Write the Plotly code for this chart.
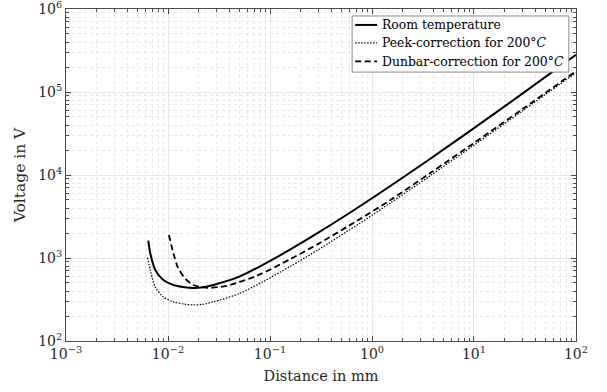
import plotly.graph_objects as go

# Room temperature (solid)
d_room = [0.0064, 0.0067, 0.0075, 0.009, 0.0113, 0.0145, 0.0176, 0.022, 0.0278, 0.05,
          0.086, 0.157, 0.3, 0.76, 1.5, 3.7, 10, 30, 100]
v_room = [1615, 1140, 716, 543, 473, 445, 435, 443, 473, 596,
          833, 1260, 2030, 4200, 7320, 15600, 36700, 96200, 280000]

# Peek-correction for 200 C (dotted)
d_peek = [0.0063, 0.0067, 0.0075, 0.009, 0.0113, 0.0145, 0.0176, 0.022, 0.0278, 0.05,
          0.086, 0.157, 0.3, 0.76, 1.5, 3.7, 10, 30, 100]
v_peek = [1009, 713, 448, 339, 296, 278, 272, 277, 296, 373,
          521, 788, 1269, 2625, 4575, 9750, 22900, 59500, 171000]

# Dunbar-correction for 200 C (dashed)
d_dun = [0.0102, 0.0113, 0.0126, 0.0147, 0.0177, 0.0239, 0.0324, 0.0406, 0.0741,
         0.157, 0.3, 0.76, 1.5, 3.7, 10, 30, 100]
v_dun = [1892, 1140, 751, 569, 473, 438, 448, 473, 610,
         964, 1490, 2940, 4950, 10500, 24300, 62500, 178000]

legend_names = ["Room temperature",
                "Peek-correction for 200°<i>C</i>",
                "Dunbar-correction for 200°<i>C</i>"]

x_tickvals = [1e-3, 1e-2, 1e-1, 1e0, 1e1, 1e2]
x_ticktext = ["10<sup>−3</sup>", "10<sup>−2</sup>", "10<sup>−1</sup>",
              "10<sup>0</sup>", "10<sup>1</sup>", "10<sup>2</sup>"]
y_tickvals = [1e2, 1e3, 1e4, 1e5, 1e6]
y_ticktext = ["10<sup>2</sup>", "10<sup>3</sup>", "10<sup>4</sup>",
              "10<sup>5</sup>", "10<sup>6</sup>"]

x_minor = [m * 10.0 ** e for e in range(-3, 2) for m in range(2, 10)]
y_minor = [m * 10.0 ** e for e in range(2, 6) for m in range(2, 10)]

FONT = "DejaVu Serif"
AX = "#4a4a4a"
TXT = "#262626"

styles = [dict(color="black", width=2),
          dict(color="black", width=1.2, dash="1.5px,1.5px"),
          dict(color="black", width=1.8, dash="6px,3.5px")]

fig = go.Figure()
for (xs, ys), name, st in zip([(d_room, v_room), (d_peek, v_peek), (d_dun, v_dun)],
                              legend_names, styles):
    fig.add_trace(go.Scatter(x=xs, y=ys, mode="lines", name=name, showlegend=False,
                             line=dict(shape="spline", smoothing=0.8, **st)))

def axis_common(minor_vals):
    return dict(
        type="log", showline=True, linecolor=AX, linewidth=1, mirror="allticks",
        ticks="inside", ticklen=5, tickcolor=AX, tickwidth=0.8,
        showgrid=True, gridcolor="#e6e6e6", gridwidth=1,
        minor=dict(tickmode="array", tickvals=minor_vals, ticks="inside", ticklen=3,
                   tickcolor=AX, tickwidth=0.6, showgrid=True,
                   gridcolor="#e8e8e8", griddash="dot", gridwidth=1),
        tickfont=dict(family=FONT, size=14, color=TXT),
        ticklabeloverflow="allow",
        zeroline=False, automargin=False,
    )

fig.update_xaxes(**axis_common(x_minor), range=[-3.0001, 2.0001], tickvals=x_tickvals,
                 ticktext=x_ticktext,
                 title=dict(text="Distance in mm", font=dict(family=FONT, size=14.5, color=TXT),
                            standoff=10))
fig.update_yaxes(**axis_common(y_minor), range=[1.9999, 6.0001], tickvals=y_tickvals,
                 ticktext=y_ticktext,
                 title=dict(text="Voltage in V", font=dict(family=FONT, size=15.5, color=TXT),
                            standoff=8))

# Manual legend box (paper coordinates of the plot area)
box_x0, box_x1, box_y0, box_y1 = 0.561, 0.986, 0.810, 0.979
fig.add_shape(type="rect", xref="paper", yref="paper",
              x0=box_x0, x1=box_x1, y0=box_y0, y1=box_y1,
              line=dict(color="#8a8a8a", width=1), fillcolor="white", layer="above")
row_y = [0.952, 0.898, 0.842]
for name, st, yy in zip(legend_names, styles, row_y):
    fig.add_shape(type="line", xref="paper", yref="paper", x0=0.567, x1=0.610, y0=yy, y1=yy,
                  line=st, layer="above")
    fig.add_annotation(xref="paper", yref="paper", x=0.615, y=yy, text=name, showarrow=False,
                       xanchor="left", yanchor="middle",
                       font=dict(family=FONT, size=12.4, color="black"))

fig.update_layout(
    width=607, height=392,
    margin=dict(l=66, r=31, t=9, b=51),
    paper_bgcolor="white", plot_bgcolor="white",
    showlegend=False,
)

fig.write_html("out.html")
